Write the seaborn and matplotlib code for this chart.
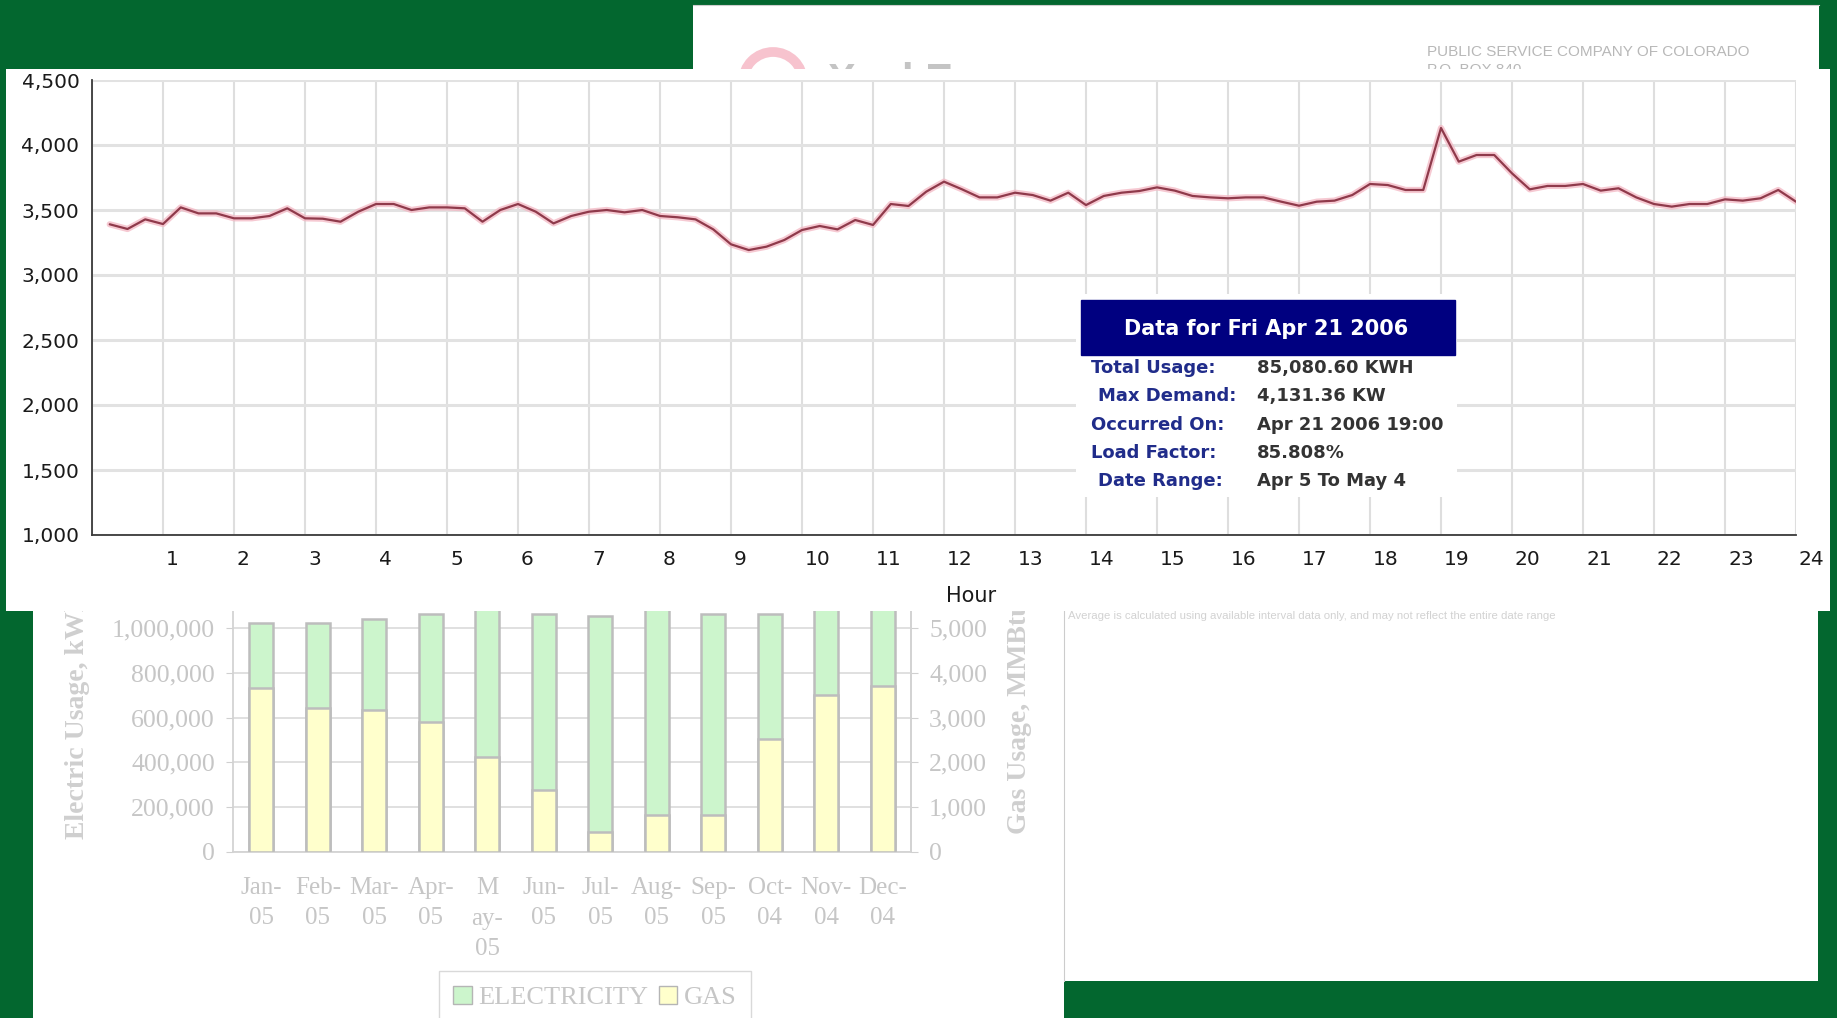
import numpy as np
import seaborn as sns
import matplotlib.pyplot as plt
import matplotlib.transforms as mtransforms
from matplotlib.patches import Rectangle, Patch, Circle
from matplotlib.ticker import FuncFormatter, MultipleLocator

# --- interval demand for Fri Apr 21 2006, kW every 15 minutes ---
hour = np.arange(1, 97) * 0.25
kw = [3390, 3354, 3428, 3392, 3520, 3474, 3474, 3436,
      3436, 3454, 3513, 3436, 3433, 3410, 3487, 3546,
      3546, 3500, 3520, 3520, 3513, 3410, 3500, 3546,
      3487, 3397, 3454, 3487, 3500, 3482, 3500, 3454,
      3444, 3428, 3351, 3236, 3192, 3218, 3269, 3346,
      3377, 3351, 3423, 3385, 3546, 3531, 3641, 3718,
      3660, 3597, 3597, 3633, 3615, 3572, 3633, 3538,
      3608, 3633, 3646, 3674, 3649, 3608, 3597, 3590,
      3597, 3597, 3564, 3533, 3564, 3572, 3615, 3700,
      3692, 3654, 3654, 4131, 3872, 3923, 3923, 3782,
      3659, 3685, 3685, 3700, 3649, 3667, 3597, 3546,
      3526, 3546, 3546, 3582, 3572, 3590, 3654, 3564]
hour_labels = [''] + [str(h) for h in range(1, 25)]

# --- monthly usage ---
months = ['Jan-\n05', 'Feb-\n05', 'Mar-\n05', 'Apr-\n05', 'M\nay-\n05', 'Jun-\n05',
          'Jul-\n05', 'Aug-\n05', 'Sep-\n05', 'Oct-\n04', 'Nov-\n04', 'Dec-\n04']
electricity = [1021000, 1021000, 1040000, 1061000, 1150000, 1061000,
               1051000, 1250000, 1061000, 1061000, 1100000, 1120000]
gas = [3660, 3220, 3160, 2910, 2130, 1380, 440, 830, 830, 2510, 3500, 3710]

info_title = 'Data for Fri Apr 21 2006'
info_labels = ['Total Usage:', 'Max Demand:', 'Occurred On:', 'Load Factor:', 'Date Range:']
info_values = ['85,080.60 KWH', '4,131.36 KW', 'Apr 21 2006 19:00', '85.808%', 'Apr 5 To May 4']

W, H = 1837, 1018
GREEN = '#03672F'
LIGHT = '#C6C6C6'
SERIF = 'Liberation Serif'

sns.set_style('white')
plt.rcParams['font.family'] = ['DejaVu Sans']

fig = plt.figure(figsize=(W / 100, H / 100), dpi=100, facecolor=GREEN)


def box(x0, y0, x1, y1):
    return [x0 / W, 1 - y1 / H, (x1 - x0) / W, (y1 - y0) / H]


def panel(x0, y0, x1, y1, z):
    a = fig.add_axes(box(x0, y0, x1, y1))
    a.set_zorder(z)
    a.set_facecolor('white')
    a.set_xticks([])
    a.set_yticks([])
    for s in a.spines.values():
        s.set_visible(False)
    a.set_xlim(x0, x1)
    a.set_ylim(y1, y0)
    return a


# bill sheet behind everything (top right)
bill = panel(693, 5, 1819, 320, 1)
bill.spines['top'].set_visible(True)
bill.spines['top'].set_color('#CFCFCF')
bill.add_patch(Circle((773, 82), 30, fill=False, ec='#F7C3CE', lw=7))
bill.text(828, 62, 'Xcel Energy', fontsize=30, color='#C4C4C4', fontweight='bold', va='top',
          family='Liberation Sans')
bill.text(1427, 52, 'PUBLIC SERVICE COMPANY OF COLORADO', fontsize=11, color='#B8B8B8', va='center',
          family='Liberation Sans')
bill.text(1427, 70, 'P.O. BOX 840', fontsize=11, color='#B8B8B8', va='center', family='Liberation Sans')

# lower panels
low_left = panel(33, 560, 1064, 1018, 1)
low_right = panel(1064, 560, 1818, 981, 1)
low_right.spines['left'].set_visible(True)
low_right.spines['left'].set_color('#CCCCCC')
low_right.text(1068, 616, 'Average is calculated using available interval data only, and may not reflect the entire date range',
               fontsize=8.2, color='#D2D2D2', va='center', family='Liberation Sans')

# --- monthly bar chart ---
axb = fig.add_axes(box(233, 583, 911, 852))
axb.set_zorder(2)
axb.set_facecolor('white')
sns.barplot(x=months, y=electricity, ax=axb, color='#CCF5CC', saturation=1,
            edgecolor='#BDBDBD', linewidth=1.8, width=0.43)
axg = axb.twinx()
axg.set_zorder(3)
sns.barplot(x=months, y=gas, ax=axg, color='#FFFFCC', saturation=1,
            edgecolor='#BDBDBD', linewidth=1.8, width=0.43)

axb.set_xlim(-0.5, 11.5)
axb.set_ylim(0, 1200000)
axg.set_ylim(0, 6000)
axb.set_yticks(np.arange(0, 1000001, 200000))
axg.set_yticks(np.arange(0, 5001, 1000))
axb.yaxis.set_major_formatter(FuncFormatter(lambda v, p: f'{v:,.0f}'))
axg.yaxis.set_major_formatter(FuncFormatter(lambda v, p: f'{v:,.0f}'))
axb.yaxis.grid(True, color='#DADADA', lw=1.2)
axb.set_axisbelow(True)
axb.set_xticks(range(12))
axb.set_xticklabels(months, fontfamily=SERIF, fontsize=18, color=LIGHT, linespacing=1.5)
axb.xaxis.set_minor_locator(MultipleLocator(1, offset=0.5))
axb.tick_params(axis='x', which='major', length=0, pad=18)
axb.tick_params(axis='x', which='minor', length=7, color='#D0D0D0', width=1.2)
axb.tick_params(axis='y', length=5, color='#D0D0D0', pad=8)
axg.tick_params(axis='y', length=5, color='#D0D0D0', pad=8)
for lab in axb.get_yticklabels() + axg.get_yticklabels():
    lab.set_fontfamily(SERIF)
    lab.set_fontsize(18.5)
    lab.set_color(LIGHT)
for s in ['left', 'bottom', 'right']:
    axb.spines[s].set_color('#D3D3D3')
    axb.spines[s].set_linewidth(1.3)
axb.spines['top'].set_visible(False)
for s in ['left', 'bottom', 'top']:
    axg.spines[s].set_visible(False)
axg.spines['right'].set_color('#D3D3D3')
axg.spines['right'].set_linewidth(1.3)
axb.set_xlabel('')
axb.set_ylabel('Electric Usage, kWh', fontfamily=SERIF, fontsize=20, fontweight='bold', color='#CFCFCF')
axb.yaxis.set_label_coords(-0.211, 0.5)
axg.set_ylabel('Gas Usage, MMBtu', fontfamily=SERIF, fontsize=20, fontweight='bold', color='#CFCFCF')
axg.yaxis.set_label_coords(1.141, 0.5)

fig.legend(handles=[Patch(facecolor='#CCF5CC', edgecolor='#B5B5B5'),
                    Patch(facecolor='#FFFFCC', edgecolor='#B5B5B5')],
           labels=['ELECTRICITY', 'GAS'], loc='upper center',
           bbox_to_anchor=(595 / W, 1 - 958 / H), ncol=2, frameon=True, fancybox=False,
           edgecolor='#D0D0D0', prop={'family': SERIF, 'size': 19}, labelcolor=LIGHT,
           handlelength=0.7, handleheight=0.7, handletextpad=0.25, columnspacing=0.4,
           borderpad=0.55)

# --- interval demand line chart ---
panel(6, 69, 1830, 611, 5)
axl = fig.add_axes(box(92, 80, 1796, 535))
axl.set_zorder(6)
axl.set_facecolor('none')
sns.lineplot(x=hour, y=kw, ax=axl, color='#F3B7C3', lw=4.5, alpha=0.75)
sns.lineplot(x=hour, y=kw, ax=axl, color='#8F3A4B', lw=1.6)
axl.set_xlim(0, 24)
axl.set_ylim(1000, 4500)
axl.set_xticks(range(25))
axl.set_xticklabels(hour_labels, fontsize=14.5, color='#1A1A1A', ha='left')
axl.xaxis.set_minor_locator(MultipleLocator(0.25))
axl.set_yticks(np.arange(1000, 4501, 500))
axl.yaxis.set_major_formatter(FuncFormatter(lambda v, p: f'{v:,.0f}'))
axl.tick_params(axis='x', which='major', length=10, width=1.4, color='#333333', pad=1)
axl.tick_params(axis='x', which='minor', length=5, width=1.4, color='#333333')
axl.tick_params(axis='y', length=3, width=1.2, color='#333333', pad=6, labelsize=14.5, labelcolor='#1A1A1A')
offset = mtransforms.ScaledTranslation(0.03, 0, fig.dpi_scale_trans)
for lab in axl.get_xticklabels():
    lab.set_transform(lab.get_transform() + offset)
axl.xaxis.grid(True, color='#DEDEDE', lw=1.5)
axl.yaxis.grid(True, color='#E2E2E2', lw=2.2)
for s in ['top', 'right']:
    axl.spines[s].set_visible(False)
for s in ['left', 'bottom']:
    axl.spines[s].set_color('#3A3A3A')
    axl.spines[s].set_linewidth(1.3)
axl.set_xlabel('Hour', fontsize=15, color='#1A1A1A')
axl.xaxis.set_label_coords(0.516, -0.112)
axl.set_ylabel('')

# --- tooltip ---
tip = panel(1076, 294, 1457, 497, 7)
tip.add_patch(Rectangle((1081, 300), 374, 55, color='#000080'))
tip.text(1266, 329, info_title, color='white', fontsize=15, fontweight='bold', ha='center', va='center')
label_x = [1091, 1098, 1091, 1091, 1098]
for i, (lab, val) in enumerate(zip(info_labels, info_values)):
    y = 368 + i * 28.3
    tip.text(label_x[i], y, lab, color='#202C8A', fontsize=13, fontweight='bold', va='center')
    tip.text(1257, y, val, color='#333333', fontsize=13, fontweight='bold', va='center')

fig.savefig('out.png', dpi=100, facecolor=GREEN)
